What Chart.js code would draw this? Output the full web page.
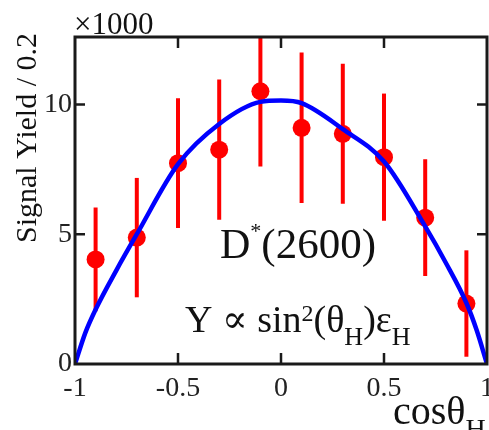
<!DOCTYPE html>
<html>
<head>
<meta charset="utf-8">
<script src="https://cdn.jsdelivr.net/npm/chart.js@4.4.3/dist/chart.umd.min.js"></script>
<style>
  html, body { margin: 0; padding: 0; background: #fff; }
  #wrap { width: 489px; height: 430px; position: relative; }
</style>
</head>
<body>
<div id="wrap"><canvas id="c" width="489" height="430"></canvas></div>
<script>
// ── data (yield in units of 1000) ──
const cosBins   = [-0.9, -0.7, -0.5, -0.3, -0.1, 0.1, 0.3, 0.5, 0.7, 0.9];
const yields    = [4.03, 4.87, 7.74, 8.26, 10.51, 9.10, 8.87, 7.97, 5.64, 2.33];
const yieldErrs = [2.0, 2.3, 2.5, 2.7, 2.9, 2.9, 2.7, 2.45, 2.25, 2.05];

// fitted sin^2(theta_H) * eps_H curve, sampled from the figure
const fitX = [-1, -0.95, -0.9, -0.8, -0.7, -0.5, -0.3, -0.1, 0, 0.1, 0.3, 0.5, 0.7, 0.8, 0.9, 0.95, 1];
const fitY = [0, 1.2, 2.1, 3.6, 5.0, 7.7, 9.25, 10.1, 10.15, 10.05, 9.05, 7.8, 5.3, 3.9, 2.35, 1.3, 0];

const xTicks = [-1, -0.5, 0, 0.5, 1];
const xTickLabels = ['-1', '-0.5', '0', '0.5', '1'];
const yTicks = [0, 5, 10];
const innerXTicks = [-0.5, 0, 0.5];
const innerYTicks = [5, 10];

const SERIF = "'Liberation Serif', 'DejaVu Serif', serif";
const INK = '#1a1a1a';

// error bars (drawn under the markers)
const errorBars = {
  id: 'errorBars',
  beforeDatasetsDraw(chart) {
    const { ctx, chartArea: a, scales: { x, y } } = chart;
    ctx.save();
    ctx.beginPath();
    ctx.rect(a.left, a.top, a.right - a.left, a.bottom - a.top);
    ctx.clip();
    ctx.strokeStyle = '#ff0000';
    ctx.lineWidth = 4;
    cosBins.forEach((c, i) => {
      const px = x.getPixelForValue(c);
      ctx.beginPath();
      ctx.moveTo(px, y.getPixelForValue(yields[i] - yieldErrs[i]));
      ctx.lineTo(px, y.getPixelForValue(yields[i] + yieldErrs[i]));
      ctx.stroke();
    });
    ctx.restore();
  },
};

// text with sub/superscripts: parts are [text, size, dy]
function drawRich(ctx, parts, x, baseline) {
  let cx = x;
  parts.forEach(([t, size, dy]) => {
    ctx.font = `${size}px ${SERIF}`;
    ctx.fillText(t, cx, baseline + dy);
    cx += ctx.measureText(t).width;
  });
}

// frame with inward ticks on all four sides, plus texts
const frameAndText = {
  id: 'frameAndText',
  afterDraw(chart) {
    const { ctx, chartArea: a, scales: { x, y } } = chart;
    ctx.save();
    ctx.strokeStyle = INK;
    ctx.lineWidth = 3;
    ctx.strokeRect(a.left, a.top, a.right - a.left, a.bottom - a.top);
    ctx.lineWidth = 2.5;
    innerXTicks.forEach(v => {
      const px = x.getPixelForValue(v);
      ctx.beginPath();
      ctx.moveTo(px, a.bottom); ctx.lineTo(px, a.bottom - 11);
      ctx.moveTo(px, a.top);    ctx.lineTo(px, a.top + 11);
      ctx.stroke();
    });
    innerYTicks.forEach(v => {
      const py = y.getPixelForValue(v);
      ctx.beginPath();
      ctx.moveTo(a.left, py);  ctx.lineTo(a.left + 10, py);
      ctx.moveTo(a.right, py); ctx.lineTo(a.right - 10, py);
      ctx.stroke();
    });

    ctx.fillStyle = '#111';
    ctx.textAlign = 'left';
    ctx.textBaseline = 'alphabetic';

    // multiplier
    ctx.font = `31px ${SERIF}`;
    ctx.fillText('×1000', 74, 34);

    // y title
    ctx.save();
    ctx.translate(36, 243);
    ctx.rotate(-Math.PI / 2);
    ctx.font = `30px ${SERIF}`;
    ctx.fillText('Signal Yield / 0.2', 0, 0);
    ctx.restore();

    // x title
    drawRich(ctx, [['cosθ', 40, 0], ['H', 28, 14]], 393, 424);

    // labels inside the plot
    drawRich(ctx, [['D', 42, 0], ['*', 22, -20], ['(2600)', 43, 0]], 220, 258);
    drawRich(ctx, [
      ['Y ∝ sin', 38, 0], ['2', 24, -11], ['(θ', 38, 0], ['H', 26, 13],
      [')ε', 38, 0], ['H', 26, 13],
    ], 185, 332);
    ctx.restore();
  },
};

// keep edge tick labels from shrinking the plot area
const noPad = s => {
  s.paddingLeft = s.paddingRight = s.paddingTop = s.paddingBottom = 0;
};

function build() {
  new Chart(document.getElementById('c'), {
    type: 'scatter',
    data: {
      datasets: [
        {
          label: 'fit',
          data: fitX.map((v, i) => ({ x: v, y: fitY[i] })),
          showLine: true,
          borderColor: '#0000ff',
          borderWidth: 4.5,
          pointRadius: 0,
          cubicInterpolationMode: 'monotone',
          order: 0,
        },
        {
          label: 'data',
          data: cosBins.map((v, i) => ({ x: v, y: yields[i] })),
          backgroundColor: '#ff0000',
          borderColor: '#ff0000',
          pointRadius: 9,
          borderWidth: 0,
          order: 1,
        },
      ],
    },
    options: {
      responsive: false,
      animation: false,
      events: [],
      layout: { autoPadding: false, padding: { top: 37, right: 2, left: 0, bottom: 0 } },
      plugins: { legend: { display: false }, tooltip: { enabled: false } },
      scales: {
        x: {
          type: 'linear',
          min: -1,
          max: 1,
          afterFit: s => { s.height = 66; noPad(s); },
          afterBuildTicks: s => { s.ticks = xTicks.map(v => ({ value: v })); },
          grid: { display: false, drawTicks: false },
          border: { display: false },
          ticks: {
            color: '#222',
            font: { size: 28, family: SERIF },
            padding: 8,
            maxRotation: 0,
            autoSkip: false,
            callback: (v, i) => xTickLabels[i],
          },
        },
        y: {
          min: 0,
          max: 12.6,
          afterFit: s => { s.width = 75; noPad(s); },
          afterBuildTicks: s => { s.ticks = yTicks.map(v => ({ value: v })); },
          grid: { display: false, drawTicks: false },
          border: { display: false },
          ticks: {
            color: '#222',
            font: { size: 28, family: SERIF },
            padding: 3,
            callback: v => String(v),
          },
        },
      },
    },
    plugins: [errorBars, frameAndText],
  });
}

if (document.fonts && document.fonts.load) {
  document.fonts.load(`28px ${SERIF}`).then(build, build);
} else {
  build();
}
</script>
</body>
</html>
